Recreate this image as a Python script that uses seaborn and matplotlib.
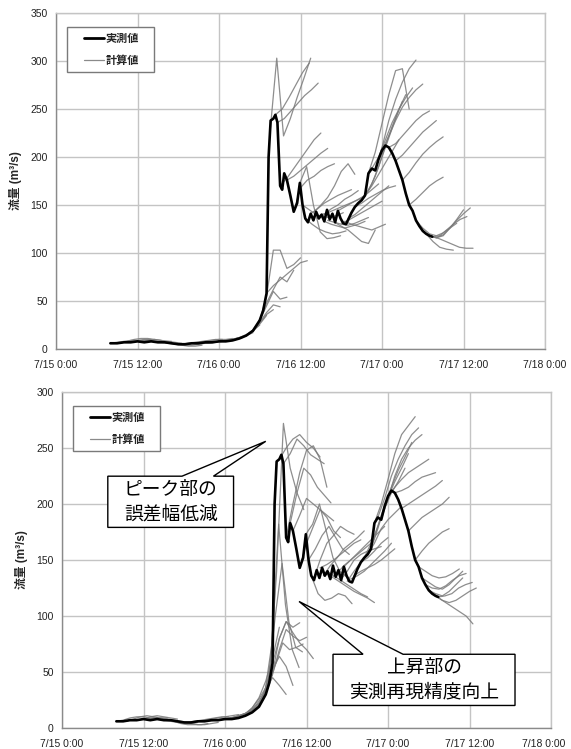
import numpy as np
import pandas as pd
import matplotlib
matplotlib.use("Agg")
import matplotlib.pyplot as plt
import matplotlib.dates as mdates
from matplotlib.lines import Line2D
from matplotlib.patches import Polygon
from matplotlib.transforms import IdentityTransform, ScaledTranslation
from matplotlib.legend_handler import HandlerLine2D
from matplotlib.ticker import FuncFormatter
import seaborn as sns

sns.set_theme(style="white")
plt.rcParams["font.family"] = ["Liberation Sans", "Noto Sans CJK JP", "DejaVu Sans"]
JP = ["Noto Sans CJK JP", "DejaVu Sans"]

# hours counted from 7/15 0:00
obs_hours = [8, 9, 10, 11, 12, 13, 14, 15, 16, 17, 18, 19, 20, 21, 22, 23, 24, 25,
             26, 27, 28, 29, 30, 30.5, 31, 31.3, 31.6, 32, 32.3, 32.6, 33, 33.3,
             33.6, 34, 34.5, 35, 35.5, 35.9, 36.3, 36.7, 37.1, 37.5, 37.9, 38.3,
             38.7, 39.1, 39.5, 39.9, 40.3, 40.7, 41.1, 41.5, 41.9, 42.3, 42.7,
             43.1, 43.5, 44, 44.5, 45, 45.5, 46, 46.5, 47, 47.5, 48, 48.5, 49,
             49.5, 50, 50.5, 51, 51.5, 52, 52.5, 53, 53.5, 54, 54.5, 55, 55.4]
obs_flow = [6, 6, 7, 7, 8, 7, 8, 7, 7, 6, 5, 5, 6, 6, 7, 7, 8, 8,
            9, 11, 14, 19, 30, 40, 58, 200, 238, 240, 244, 236, 170, 166,
            183, 176, 160, 143, 152, 173, 150, 136, 132, 141, 134, 143,
            136, 140, 133, 145, 135, 141, 132, 144, 136, 131, 130,
            136, 142, 148, 152, 155, 160, 183, 188, 186, 198, 207, 212, 210,
            204, 196, 186, 176, 162, 150, 144, 134, 128, 123, 120, 118, 117]

# calculated runs (start hour, hourly values) - upper panel
top_run_start = [8, 9.5, 11, 12.5, 14, 15.5, 17, 18.5, 20, 21.5, 23, 24, 25, 26,
                 27, 28, 29, 30, 31, 31.5, 32.3, 32.6, 33, 34, 35, 35.9, 36.7,
                 37.5, 38, 39, 40, 41, 42, 43, 44, 45, 46, 47, 48, 49, 50, 51,
                 52, 53, 53.5, 54, 54.5, 55, 55.4,
                 36.3, 38.5, 39.5, 41.5, 42.5, 44.5, 45.5, 46.5]
top_run_flow = [
    [6, 7, 8, 9, 9, 10, 10],
    [6, 8, 10, 11, 11, 10, 9],
    [7, 8, 9, 9, 8, 8, 8],
    [8, 9, 10, 9, 8, 7, 6],
    [8, 8, 7, 6, 5, 5, 6],
    [7, 6, 5, 4, 3, 3, 4],
    [6, 5, 4, 4, 5, 6, 7],
    [5, 6, 7, 8, 9, 10, 10],
    [6, 7, 8, 9, 10, 10, 11],
    [6, 6, 7, 8, 9, 11, 12],
    [7, 8, 9, 10, 12, 14, 17],
    [8, 9, 10, 12, 15, 19, 25],
    [8, 9, 11, 14, 19, 26, 35],
    [9, 11, 14, 19, 27, 36, 41],
    [11, 14, 20, 28, 38, 46, 44],
    [14, 20, 30, 45, 60, 52, 54],
    [19, 30, 48, 62, 75, 70, 82],
    [30, 55, 103, 103, 84, 88, 95],
    [58, 66, 72, 78, 84, 90, 92],
    [225, 303, 222, 240, 262, 282, 303],
    [244, 250, 262, 275, 288, 298],
    [236, 240, 248, 256, 264, 270, 277],
    [170, 178, 188, 198, 208, 218, 225],
    [176, 180, 186, 192, 198, 204, 209],
    [143, 168, 176, 180, 186, 190, 193],
    [173, 190, 150, 122, 115, 116, 118],
    [136, 130, 125, 122, 120, 121, 123],
    [141, 146, 152, 156, 160, 163, 166],
    [143, 150, 158, 170, 185, 193, 182],
    [140, 142, 145, 148, 151, 154, 157],
    [134, 132, 130, 129, 131, 134, 137],
    [132, 128, 124, 118, 112, 110, 124],
    [131, 134, 138, 142, 146, 150, 154],
    [136, 140, 146, 152, 158, 164, 170],
    [148, 152, 157, 161, 165, 168, 170],
    [155, 165, 180, 200, 220, 240, 258],
    [183, 205, 235, 265, 290, 292, 250],
    [186, 210, 238, 260, 278, 292, 301],
    [207, 222, 238, 252, 262, 270, 276],
    [210, 214, 222, 230, 238, 244, 248],
    [196, 202, 210, 218, 226, 232, 238],
    [176, 184, 194, 203, 210, 216, 221],
    [150, 156, 163, 170, 175, 179],
    [134, 126, 120, 118, 121, 126, 131],
    [128, 120, 112, 106, 104, 103],
    [123, 118, 116, 119, 126, 135, 145],
    [120, 117, 118, 124, 130, 135, 138],
    [118, 116, 118, 126, 134, 141, 147],
    [117, 115, 112, 109, 106, 105, 105],
    [150, 145, 140, 138, 137, 139, 142],
    [136, 140, 146, 150, 156, 160, 165],
    [133, 130, 128, 126, 128, 130, 133],
    [144, 148, 152, 156, 160, 166, 172],
    [133, 130, 128, 126, 124, 127, 130],
    [152, 160, 170, 182, 194, 206, 218],
    [160, 172, 190, 212, 232, 250, 265],
    [188, 200, 218, 236, 250, 262, 272],
]

# calculated runs - lower panel
bottom_run_start = [8, 9.5, 11, 12.5, 14, 15.5, 17, 18.5, 20, 21.5, 23, 24, 25,
                    26, 27, 28, 28.9, 29, 29.4, 29.6, 30, 30.5, 31, 32, 32.6, 33,
                    33.6, 34, 35, 35.9, 36.7, 37, 38, 39, 40, 41, 42, 43, 44, 45,
                    46, 47, 48, 49, 50, 51, 52, 53, 53.5, 54, 54.5, 55, 55.4,
                    36.3, 38.5, 39.5, 41.5, 42.5, 44.5, 45.5, 46.5, 52.5]
bottom_run_flow = [
    [6, 7, 9, 10, 10, 9, 9],
    [6, 8, 10, 11, 10, 9, 9],
    [7, 8, 10, 11, 10, 9, 8],
    [8, 9, 9, 8, 7, 6, 5],
    [8, 7, 6, 5, 4, 4, 5],
    [7, 6, 4, 3, 3, 3, 4],
    [6, 5, 4, 3, 3, 4, 5],
    [5, 6, 7, 8, 9, 10, 10],
    [6, 7, 8, 9, 10, 11, 12],
    [6, 7, 8, 9, 10, 12, 14],
    [7, 8, 9, 11, 13, 16, 20],
    [8, 9, 11, 13, 17, 22, 30],
    [8, 10, 13, 18, 26, 36, 48],
    [9, 12, 18, 27, 42, 62, 90],
    [11, 16, 24, 34, 45, 38, 30],
    [14, 22, 35, 52, 64, 55, 38],
    [19, 33, 75, 182, 110, 70, 54],
    [19, 30, 50, 80, 95, 90, 94],
    [24, 45, 100, 147, 95, 72, 68],
    [26, 50, 140, 272, 232, 210, 195],
    [30, 48, 70, 88, 82, 78, 81],
    [40, 58, 76, 70, 72, 75],
    [58, 80, 95, 85, 76, 70, 62],
    [240, 250, 258, 262, 255, 250, 242],
    [236, 245, 258, 252, 244, 240, 236],
    [170, 200, 228, 248, 252, 240, 215],
    [183, 210, 232, 226, 215, 208, 201],
    [176, 190, 205, 200, 195, 190, 185],
    [143, 165, 180, 195, 188, 176, 170],
    [173, 182, 200, 176, 152, 140, 135],
    [136, 120, 114, 116, 120, 118, 111],
    [132, 150, 165, 172, 180, 176, 173],
    [143, 146, 150, 155, 160, 165, 168],
    [140, 136, 132, 128, 124, 120, 117],
    [134, 130, 126, 122, 119, 116, 112],
    [132, 140, 150, 155, 158, 160, 162],
    [131, 140, 148, 152, 158, 165, 170],
    [136, 140, 143, 146, 150, 155, 160],
    [148, 155, 165, 178, 186, 192, 198],
    [155, 170, 190, 206, 220, 232, 245],
    [183, 200, 222, 245, 262, 270, 278],
    [186, 205, 225, 240, 250, 257, 262],
    [207, 215, 222, 228, 232, 236, 240],
    [210, 212, 215, 220, 224, 226, 228],
    [196, 200, 204, 208, 212, 216, 221],
    [176, 182, 188, 192, 196, 200, 206],
    [150, 158, 165, 170, 175, 178],
    [134, 130, 126, 124, 128, 134, 140],
    [128, 125, 124, 127, 132, 136, 138],
    [123, 120, 118, 122, 128, 134],
    [120, 116, 112, 108, 104, 100, 93],
    [118, 114, 112, 114, 118, 122, 125],
    [117, 118, 120, 125, 128, 130],
    [150, 160, 172, 180, 170, 160, 155],
    [136, 145, 152, 160, 165, 170, 176],
    [133, 138, 145, 150, 155, 160, 165],
    [144, 150, 156, 162, 168, 174, 180],
    [133, 136, 140, 146, 152, 158, 165],
    [152, 165, 180, 196, 210, 220, 232],
    [160, 178, 198, 215, 230, 242, 255],
    [188, 205, 225, 240, 252, 262, 268],
    [144, 140, 136, 134, 135, 138, 142],
]

legend_labels = ["実測値", "計算値"]

base = pd.Timestamp("2012-07-15 00:00")
grid_c = "#c4c4c4"
spine_c = "#8a8a8a"


def to_time(hours):
    return base + pd.to_timedelta(np.asarray(hours, dtype=float), unit="h")


def runs_frame(starts, flows):
    rows = []
    for k, (s, vals) in enumerate(zip(starts, flows)):
        for i, v in enumerate(vals):
            rows.append((k, s + i, v))
    df = pd.DataFrame(rows, columns=["run", "hour", "flow"])
    df["time"] = to_time(df["hour"])
    return df


def fmt_time(x, pos):
    d = mdates.num2date(x)
    return f"{d.month}/{d.day} {d.hour}:{d.minute:02d}"


class ShortLine(HandlerLine2D):
    # legend line drawn only on the right part of the handle box
    def get_xdata(self, legend, xdescent, ydescent, width, height, fontsize):
        x = np.array([-xdescent + width * 0.38, -xdescent + width])
        return x, x


def draw_panel(ax, runs, ymax):
    sns.lineplot(data=runs, x="time", y="flow", units="run", estimator=None,
                 color="#7a7a7a", lw=0.9, alpha=0.85, sort=False, ax=ax,
                 legend=False)
    sns.lineplot(x=to_time(obs_hours), y=obs_flow, color="black", lw=1.9,
                 estimator=None, sort=False, ax=ax)
    ax.set_xlim(mdates.date2num(base), mdates.date2num(base + pd.Timedelta(hours=72)))
    ax.set_ylim(0, ymax)
    ax.set_yticks(np.arange(0, ymax + 1, 50))
    ax.xaxis.set_major_locator(mdates.HourLocator(byhour=[0, 12]))
    ax.xaxis.set_major_formatter(FuncFormatter(fmt_time))
    ax.grid(True, color=grid_c, lw=1.0)
    ax.set_axisbelow(True)
    for side in ["top", "right"]:
        ax.spines[side].set_color(grid_c)
        ax.spines[side].set_linewidth(1.0)
    for side in ["left", "bottom"]:
        ax.spines[side].set_color(spine_c)
        ax.spines[side].set_linewidth(1.0)
    ax.tick_params(axis="both", which="major", direction="out", length=4,
                   width=0.8, color=spine_c, labelsize=7.5, pad=2,
                   labelcolor="#222222")
    ax.tick_params(axis="x", pad=4)
    ax.set_xlabel("")
    ax.set_ylabel("流量 (m³/s)", fontsize=8.5, fontweight="bold", labelpad=6)
    handles = [Line2D([], [], color="black", lw=2.0),
               Line2D([], [], color="#8a8a8a", lw=0.9)]
    box_h = 0.12
    leg = ax.legend(handles, legend_labels, loc="upper left",
                    bbox_to_anchor=(0.0225, 0.957 - box_h, 87 / 489, box_h),
                    mode="expand", fontsize=8, frameon=True, fancybox=False,
                    framealpha=1, edgecolor="#7a7a7a", borderpad=0.4,
                    labelspacing=0.85, handlelength=2.9, handletextpad=0.15,
                    borderaxespad=0, handler_map={Line2D: ShortLine()})
    leg.get_frame().set_linewidth(1.0)
    for t in leg.get_texts():
        t.set_fontweight("bold")
        t.set_family(JP)


fig = plt.figure(figsize=(5.71, 7.49), dpi=100)
ax_top = fig.add_axes([0.0981, 0.534, 0.8564, 0.4486])
ax_bot = fig.add_axes([0.1086, 0.0280, 0.8564, 0.4486])

draw_panel(ax_top, runs_frame(top_run_start, top_run_flow), 350)
draw_panel(ax_bot, runs_frame(bottom_run_start, bottom_run_flow), 300)

# callout boxes: text, tip (hour, flow), box centre (hour, flow), pointer base fractions
callouts = [
    ("ピーク部の\n誤差幅低減", (30.0, 256), (16.0, 202), (0.59, 0.84)),
    ("上昇部の\n実測再現精度向上", (34.9, 113), (53.3, 43), (0.165, 0.385)),
]


def hnum(h):
    return mdates.date2num(base + pd.Timedelta(hours=h))


fig.canvas.draw()
renderer = fig.canvas.get_renderer()

# keep the last date label of the lower panel inside the figure
last = ax_bot.xaxis.get_major_ticks()[-1].label1
last.set_transform(last.get_transform() + ScaledTranslation(-5 / 72, 0, fig.dpi_scale_trans))

for text, tip, centre, frac in callouts:
    t = ax_bot.text(hnum(centre[0]), centre[1], text, ha="center", va="center",
                    fontsize=13.5, linespacing=1.2, family=JP, color="black",
                    zorder=8)
    bb = t.get_window_extent(renderer)
    x0, x1 = bb.x0 - 16, bb.x1 + 16
    y0, y1 = bb.y0 - 3, bb.y1 + 3
    tx, ty = ax_bot.transData.transform((hnum(tip[0]), tip[1]))
    a = x0 + frac[0] * (x1 - x0)
    b = x0 + frac[1] * (x1 - x0)
    verts = [(x0, y1), (a, y1), (tx, ty), (b, y1), (x1, y1), (x1, y0), (x0, y0)]
    poly = Polygon(verts, closed=True, fc="white", ec="black", lw=1.0,
                   transform=IdentityTransform(), zorder=7)
    ax_bot.add_artist(poly)

fig.savefig("out.png", dpi=100)
